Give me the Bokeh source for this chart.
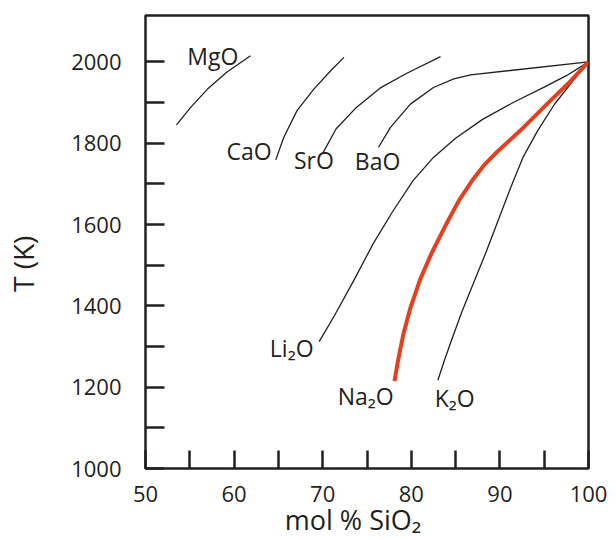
from bokeh.plotting import figure
from bokeh.models import Range1d, FixedTicker, ColumnDataSource
from bokeh.embed import file_html
from bokeh.resources import INLINE
from bokeh.core.properties import value

FONT = "Open Sans"
TXT = "#231f20"
RED = "#e2401f"

# ---- data (mol % SiO2, T in K) ----
mgo_x = [53.5, 55.1, 57.0, 59.2, 61.85]
mgo_y = [1845, 1888, 1933, 1975, 2015]

cao_x = [64.7, 65.6, 67.1, 69.0, 70.9, 72.4]
cao_y = [1759, 1814, 1880, 1933, 1978, 2011]

sro_x = [70.0, 71.5, 73.8, 76.5, 79.5, 83.3]
sro_y = [1775, 1835, 1888, 1936, 1972, 2013]

bao_x = [76.3, 77.65, 79.9, 82.5, 84.8, 86.7, 100.0]
bao_y = [1790, 1839, 1896, 1937, 1958, 1968, 2000]

li2o_x = [69.6, 71.3, 73.5, 75.7, 77.9, 80.2, 82.5, 85.0, 88.0, 91.5, 95.0, 97.5, 100.0]
li2o_y = [1312, 1375, 1462, 1553, 1632, 1708, 1765, 1812, 1858, 1900, 1938, 1966, 2000]

na2o_x = [78.1, 78.5, 79.1, 79.9, 81.0, 82.3, 83.8, 85.4, 87.0, 88.3, 89.7, 92.3, 95.3, 98.0, 100.0]
na2o_y = [1215, 1265, 1330, 1395, 1465, 1530, 1595, 1660, 1712, 1748, 1779, 1831, 1896, 1953, 2000]

k2o_x = [83.0, 83.8, 84.7, 85.7, 87.0, 88.4, 89.8, 91.2, 92.6, 94.3, 96.2, 98.2, 100.0]
k2o_y = [1217, 1270, 1325, 1385, 1455, 1530, 1610, 1690, 1765, 1832, 1897, 1952, 2000]

curve_labels = ["MgO", "CaO", "SrO", "BaO", "Li\u2082O", "Na\u2082O", "K\u2082O"]
label_x = [57.6, 61.7, 69.0, 76.2, 66.5, 74.85, 84.9]
label_y = [2015, 1780, 1759, 1756, 1297, 1178, 1173]

x_major = [50, 60, 70, 80, 90, 100]
x_minor = [55, 65, 75, 85, 95]
y_major = [1000, 1200, 1400, 1600, 1800, 2000]
y_minor = [1100, 1300, 1500, 1700, 1900]

NB = "\u00a0"
x_title = "mol % SiO\u2082" + NB * 4
y_title = "T (K)" + NB * 6

# ---- figure ----
p = figure(width=612, height=540,
           x_range=Range1d(50, 100), y_range=Range1d(1000, 2114),
           output_backend="svg", toolbar_location=None,
           min_border_left=145, min_border_right=24,
           min_border_top=15, min_border_bottom=72)
p.background_fill_color = "white"
p.border_fill_color = "white"
p.xgrid.visible = False
p.ygrid.visible = False
p.outline_line_color = TXT
p.outline_line_width = 2.5
p.outline_line_alpha = 1.0

p.xaxis.ticker = FixedTicker(ticks=x_major, minor_ticks=x_minor)
p.yaxis.ticker = FixedTicker(ticks=y_major, minor_ticks=y_minor)

for ax in (p.xaxis[0], p.yaxis[0]):
    ax.axis_line_color = None
    ax.major_tick_line_color = TXT
    ax.minor_tick_line_color = TXT
    ax.major_tick_line_width = 2.5
    ax.minor_tick_line_width = 2.5
    ax.major_tick_out = 0
    ax.minor_tick_out = 0
    ax.major_label_text_font = FONT
    ax.major_label_text_font_size = "22px"
    ax.major_label_text_color = TXT
    ax.axis_label_text_font = FONT
    ax.axis_label_text_font_style = "normal"
    ax.axis_label_text_color = TXT

p.xaxis.axis_label_text_font_size = "27px"
p.yaxis.axis_label_text_font_size = "28px"
p.xaxis.major_tick_in = 18
p.xaxis.minor_tick_in = 18
p.yaxis.major_tick_in = 19
p.yaxis.minor_tick_in = 19
p.xaxis.major_label_standoff = 17
p.yaxis.major_label_standoff = 24
p.xaxis.axis_label = x_title
p.yaxis.axis_label = y_title
p.xaxis.axis_label_standoff = -4
p.yaxis.axis_label_standoff = 26

# ---- curves ----
for xs, ys in [(mgo_x, mgo_y), (cao_x, cao_y), (sro_x, sro_y), (bao_x, bao_y),
               (li2o_x, li2o_y), (k2o_x, k2o_y)]:
    p.line(xs, ys, line_color=TXT, line_width=1.3)
p.line(na2o_x, na2o_y, line_color=RED, line_width=4, line_join="round")

src = ColumnDataSource(dict(x=label_x, y=label_y, t=curve_labels))
p.text(x="x", y="y", text="t", source=src, text_font=value(FONT),
       text_font_size=value("23px"), text_align="center",
       text_baseline="middle", text_color=TXT)

open("out.html", "w").write(file_html(p, INLINE))
